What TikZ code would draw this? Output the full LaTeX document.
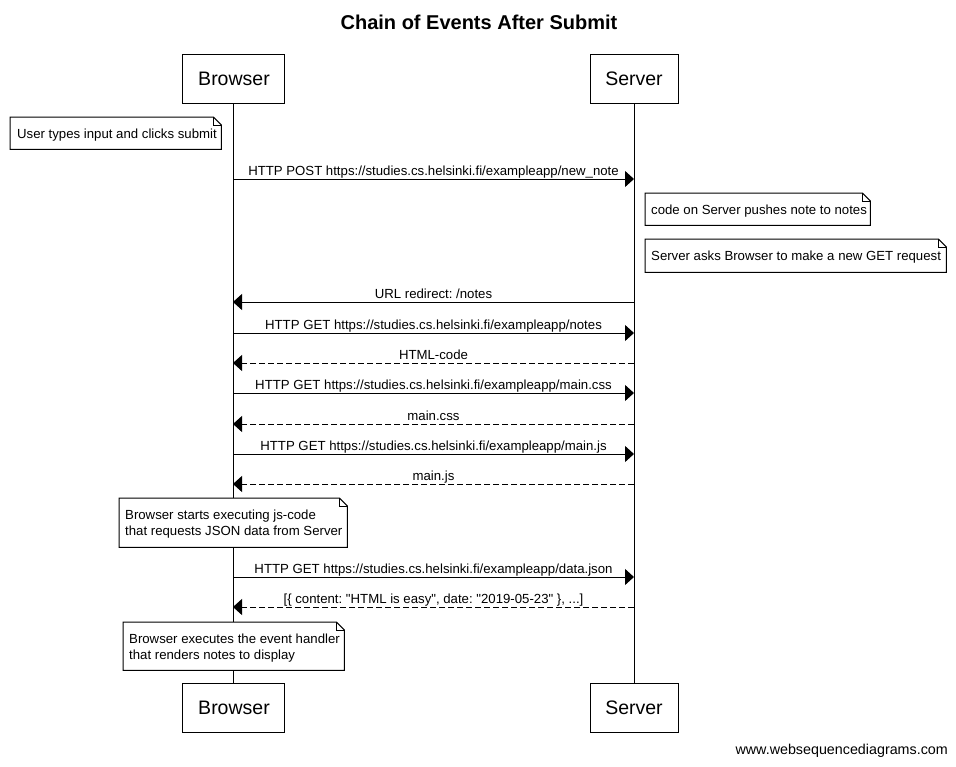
\documentclass[tikz,border=0pt]{standalone}
\usepackage{fontspec}
\setmainfont{Liberation Sans}
\frenchspacing
\usetikzlibrary{arrows.meta}
\tikzset{
  actor/.style={draw, line width=1pt, fill=white, inner sep=0pt, font=\fontsize{19.5}{22}\selectfont},
  lifeline/.style={line width=1pt},
  msg/.style={line width=1pt, -{Triangle[length=9pt,width=16pt]}},
  reply/.style={msg, dash pattern=on 6pt off 3pt},
  msglabel/.style={font=\fontsize{13.2}{15}\selectfont, inner sep=0pt, anchor=base},
  notearea/.style={anchor=north west, inner sep=0pt},
  notelabel/.style={anchor=west, inner sep=0pt, align=left, font=\fontsize{13.2}{16}\selectfont},
  notebox/.style={line width=1pt, fill=white},
}
\newcommand{\dognote}[1]{%
  \draw[notebox] (#1.south west) -- (#1.north west) -- ([xshift=-8pt]#1.north east)
     -- ([yshift=-8pt]#1.north east) -- (#1.south east) -- cycle;
  \draw[line width=1pt] ([xshift=-8pt]#1.north east) -- ([xshift=-8pt,yshift=-8pt]#1.north east)
     -- ([yshift=-8pt]#1.north east);
}
\begin{document}
\begin{tikzpicture}[x=1pt,y=-1pt]
\fill[white] (0,0) rectangle (956,766);
\useasboundingbox (0,0) rectangle (956,766);

\node[font=\bfseries\fontsize{20}{24}\selectfont] (title) at (479,22) {Chain of Events After Submit};

% lifelines
\coordinate (bt) at (233,103);
\coordinate (bb) at (233,683);
\coordinate (st) at (634,103);
\coordinate (sb) at (634,683);
\draw[lifeline] (bt) -- (bb);
\draw[lifeline] (st) -- (sb);

% actors
\node[actor, minimum width=102pt, minimum height=49pt] (browserTop) at (233,78.5) {\hspace{2pt}Browser};
\node[actor, minimum width=88pt, minimum height=49pt] (serverTop) at (634,78.5) {Server};
\node[actor, minimum width=102pt, minimum height=49pt] (browserBot) at (233,707.5) {\hspace{2pt}Browser};
\node[actor, minimum width=88pt, minimum height=49pt] (serverBot) at (634,707.5) {Server};

% notes
\node[notearea, minimum width=211pt, minimum height=32pt] (n1) at (10,117) {};
\dognote{n1}
\node[notelabel] (n1t) at ([xshift=7pt,yshift=-1.5pt]n1.west) {User types input and clicks submit};

\node[notearea, minimum width=225pt, minimum height=32pt] (n2) at (645,193) {};
\dognote{n2}
\node[notelabel] (n2t) at ([xshift=6pt,yshift=-1.5pt]n2.west) {code on Server pushes note to notes};

\node[notearea, minimum width=301pt, minimum height=33pt] (n3) at (645,239) {};
\dognote{n3}
\node[notelabel] (n3t) at ([xshift=6pt,yshift=-1.5pt]n3.west) {Server asks Browser to make a new GET request};

% messages
\coordinate (b1) at (233,179); \coordinate (s1) at (634,179);
\draw[msg] (b1) -- (s1);
\node[msglabel] (l1) at (433.5,175) {HTTP POST https://studies.cs.helsinki.fi/exampleapp/new\_note};

\coordinate (b2) at (233,302); \coordinate (s2) at (634,302);
\draw[msg] (s2) -- (b2);
\node[msglabel] (l2) at (433.5,298) {URL redirect: /notes};

\coordinate (b3) at (233,333); \coordinate (s3) at (634,333);
\draw[msg] (b3) -- (s3);
\node[msglabel] (l3) at (433.5,329) {HTTP GET https://studies.cs.helsinki.fi/exampleapp/notes};

\coordinate (b4) at (233,363); \coordinate (s4) at (634,363);
\draw[reply] (s4) -- (b4);
\node[msglabel] (l4) at (433.5,359) {HTML-code};

\coordinate (b5) at (233,393); \coordinate (s5) at (634,393);
\draw[msg] (b5) -- (s5);
\node[msglabel] (l5) at (433.5,389) {HTTP GET https://studies.cs.helsinki.fi/exampleapp/main.css};

\coordinate (b6) at (233,424); \coordinate (s6) at (634,424);
\draw[reply] (s6) -- (b6);
\node[msglabel] (l6) at (433.5,420) {main.css};

\coordinate (b7) at (233,454); \coordinate (s7) at (634,454);
\draw[msg] (b7) -- (s7);
\node[msglabel] (l7) at (433.5,450) {HTTP GET https://studies.cs.helsinki.fi/exampleapp/main.js};

\coordinate (b8) at (233,484); \coordinate (s8) at (634,484);
\draw[reply] (s8) -- (b8);
\node[msglabel] (l8) at (433.5,480) {main.js};

\node[notearea, minimum width=228pt, minimum height=49pt] (n4) at (119,498) {};
\dognote{n4}
\node[notelabel] (n4t) at ([xshift=6pt,yshift=-1.5pt]n4.west) {Browser starts executing js-code\\that requests JSON data from Server};

\coordinate (b9) at (233,577); \coordinate (s9) at (634,577);
\draw[msg] (b9) -- (s9);
\node[msglabel] (l9) at (433.5,573) {HTTP GET https://studies.cs.helsinki.fi/exampleapp/data.json};

\coordinate (b10) at (233,607); \coordinate (s10) at (634,607);
\draw[reply] (s10) -- (b10);
\node[msglabel] (l10) at (433.5,603) {[\{ content: \textquotedbl HTML is easy\textquotedbl, date: \textquotedbl 2019-05-23\textquotedbl\ \}, ...]};

\node[notearea, minimum width=221pt, minimum height=48pt] (n5) at (123,622) {};
\dognote{n5}
\node[notelabel] (n5t) at ([xshift=6pt,yshift=-1.5pt]n5.west) {Browser executes the event handler\\that renders notes to display};

\node[font=\fontsize{14.3}{16}\selectfont, anchor=east, inner sep=0pt] (footer) at (948,751) {www.websequencediagrams.com};
\end{tikzpicture}
\end{document}
